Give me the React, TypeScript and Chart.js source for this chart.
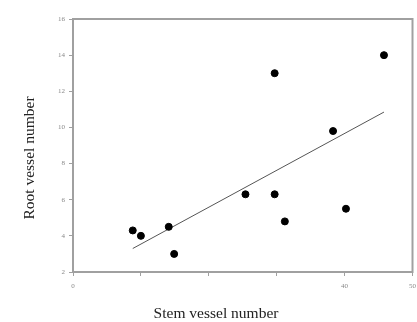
import React, { useEffect, useRef } from "react";
import { Chart, registerables } from "chart.js";
Chart.register(...registerables);

const stemVessels = [8.8, 10.0, 14.1, 14.9, 25.4, 29.7, 29.7, 31.2, 38.3, 40.2, 45.8];
const rootVessels = [4.3, 4.0, 4.5, 3.0, 6.3, 6.3, 13.0, 4.8, 9.8, 5.5, 14.0];
const fitX = [8.8, 45.8];
const fitY = [3.3, 10.85];
const xLabeled = [0, 40, 50];
const xTitle = "Stem vessel number";
const yTitle = "Root vessel number";

const frame = {
  id: "frame",
  afterDraw(chart: any) {
    const { ctx, chartArea: a } = chart;
    ctx.save();
    ctx.strokeStyle = "#a0a0a0";
    ctx.lineWidth = 2;
    ctx.strokeRect(a.left, a.top, a.right - a.left, a.bottom - a.top);
    ctx.fillStyle = "#222";
    ctx.font = "15.5px 'Liberation Serif', serif";
    ctx.textAlign = "center";
    ctx.textBaseline = "middle";
    ctx.fillText(xTitle, 216, 314);
    ctx.translate(30, 158);
    ctx.rotate(-Math.PI / 2);
    ctx.fillText(yTitle, 0, 0);
    ctx.restore();
  },
};

export default function App() {
  const ref = useRef<HTMLCanvasElement>(null);
  useEffect(() => {
    document.body.style.margin = "0";
    const chart = new Chart(ref.current!, {
      type: "scatter",
      data: {
        datasets: [
          {
            data: stemVessels.map((x, i) => ({ x, y: rootVessels[i] })),
            backgroundColor: "#000",
            borderColor: "#000",
            pointRadius: 3.5,
            pointHoverRadius: 3.5,
          },
          {
            type: "line",
            data: fitX.map((x, i) => ({ x, y: fitY[i] })),
            borderColor: "#555",
            borderWidth: 1,
            pointRadius: 0,
            fill: false,
          },
        ],
      },
      options: {
        animation: false,
        responsive: false,
        layout: { padding: { top: 19, right: 4, left: 0, bottom: 0 } },
        plugins: { legend: { display: false }, tooltip: { enabled: false } },
        scales: {
          x: {
            type: "linear",
            min: 0,
            max: 50,
            afterFit: (s: any) => { s.height = 50; s.paddingLeft = 0; s.paddingRight = 0; },
            ticks: {
              stepSize: 10,
              color: "#888",
              font: { size: 7, family: "'Liberation Serif', serif" },
              padding: 6,
              callback: (v: any) => (xLabeled.includes(v) ? String(v) : ""),
            },
            grid: { drawOnChartArea: false, tickLength: 4, color: "#a0a0a0" },
            border: { color: "#a0a0a0", width: 2 },
          },
          y: {
            type: "linear",
            min: 2,
            max: 16,
            afterFit: (s: any) => { s.width = 73; s.paddingTop = 0; s.paddingBottom = 0; },
            ticks: {
              stepSize: 2,
              color: "#888",
              font: { size: 7, family: "'Liberation Serif', serif" },
              padding: 4,
            },
            grid: { drawOnChartArea: false, tickLength: 4, color: "#a0a0a0" },
            border: { color: "#a0a0a0", width: 2 },
          },
        },
      },
      plugins: [frame],
    });
    return () => chart.destroy();
  }, []);
  return <canvas ref={ref} width={417} height={322} style={{ display: "block" }} />;
}
